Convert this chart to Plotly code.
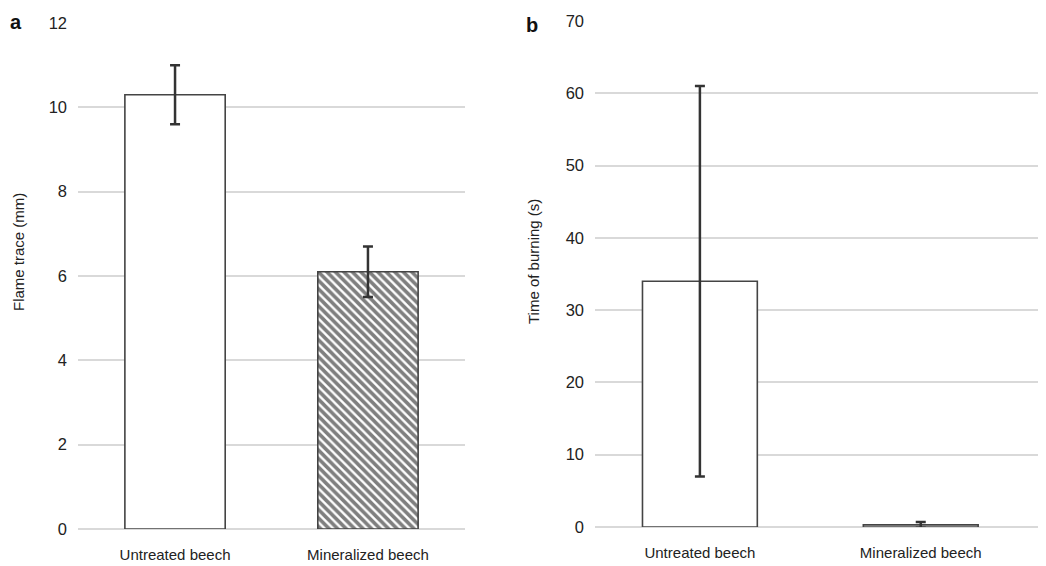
import plotly.graph_objects as go

categories = ["Untreated beech", "Mineralized beech"]
flame_trace = [10.3, 6.1]
flame_err = [0.7, 0.6]
burn_time = [34.0, 0.3]
burn_err = [27.0, 0.4]
ticks_a = [0, 2, 4, 6, 8, 10, 12]
ticks_b = [0, 10, 20, 30, 40, 50, 60, 70]

# the page places the figure 8px from the top-left corner
OFF = 8
W, H = 1046 - OFF, 566 - OFF
FONT = "Liberation Sans, Arial, sans-serif"
TXT = "#222222"
GRID = "#d9d9d9"
EDGE = "#444444"

fig = go.Figure()

fig.add_trace(go.Bar(
    x=categories[:1], y=flame_trace[:1], width=0.52,
    marker=dict(color="white", line=dict(color=EDGE, width=1.6)),
    error_y=dict(type="data", array=flame_err[:1], color="#333333", thickness=2.5, width=5),
    xaxis="x", yaxis="y", showlegend=False, hoverinfo="skip"))
fig.add_trace(go.Bar(
    x=categories[1:], y=flame_trace[1:], width=0.52,
    marker=dict(color="white", line=dict(color=EDGE, width=1.6),
                pattern=dict(shape="\\", size=6, solidity=0.6, fgcolor="#000000")),
    error_y=dict(type="data", array=flame_err[1:], color="#333333", thickness=2.5, width=5),
    xaxis="x", yaxis="y", showlegend=False, hoverinfo="skip"))

fig.add_trace(go.Bar(
    x=categories, y=burn_time, width=0.52,
    marker=dict(color="white", line=dict(color=EDGE, width=1.6)),
    error_y=dict(type="data", array=burn_err, color="#333333", thickness=2.5, width=5),
    xaxis="x2", yaxis="y2", showlegend=False, hoverinfo="skip"))

def px(x):
    return min(1.0, (x - OFF) / W)

def py(y):
    return max(0.0, (H - (y - OFF)) / H)

common_x = dict(showgrid=False, zeroline=False, showline=False, ticks="",
                tickfont=dict(family=FONT, size=15, color=TXT), ticklabelstandoff=15,
                type="category", automargin=False)
common_y = dict(showgrid=True, gridcolor=GRID, gridwidth=2, zeroline=True,
                zerolinecolor=GRID, zerolinewidth=2, showline=False, ticks="",
                tickfont=dict(family=FONT, size=16.5, color=TXT), ticklabelstandoff=10,
                automargin=False)

fig.update_layout(
    width=W, height=H, margin=dict(l=0, r=0, t=0, b=0, pad=0),
    paper_bgcolor="white", plot_bgcolor="white",
    xaxis=dict(domain=[px(78), px(465)], range=[-0.503, 1.503], anchor="y", **common_x),
    yaxis=dict(domain=[py(529), py(23)], range=[0, 12], tickvals=ticks_a, anchor="x", **common_y),
    xaxis2=dict(domain=[px(595), px(1040)], range=[-0.475, 1.54], anchor="y2", **common_x),
    yaxis2=dict(domain=[py(527), py(21)], range=[0, 70], tickvals=ticks_b, anchor="x2", **common_y),
    bargap=0.48,
)

ann = dict(xref="paper", yref="paper", showarrow=False, xanchor="center", yanchor="middle")
fig.add_annotation(text="Flame trace (mm)", x=px(18), y=py(252), textangle=-90,
                   font=dict(family=FONT, size=15, color=TXT), **ann)
fig.add_annotation(text="Time of burning (s)", x=px(534), y=py(262), textangle=-90,
                   font=dict(family=FONT, size=15, color=TXT), **ann)
fig.add_annotation(text="<b>a</b>", x=px(16), y=py(22),
                   font=dict(family=FONT, size=20, color="#111111"), **ann)
fig.add_annotation(text="<b>b</b>", x=px(532), y=py(25),
                   font=dict(family=FONT, size=20, color="#111111"), **ann)

fig.write_html("out.html")
